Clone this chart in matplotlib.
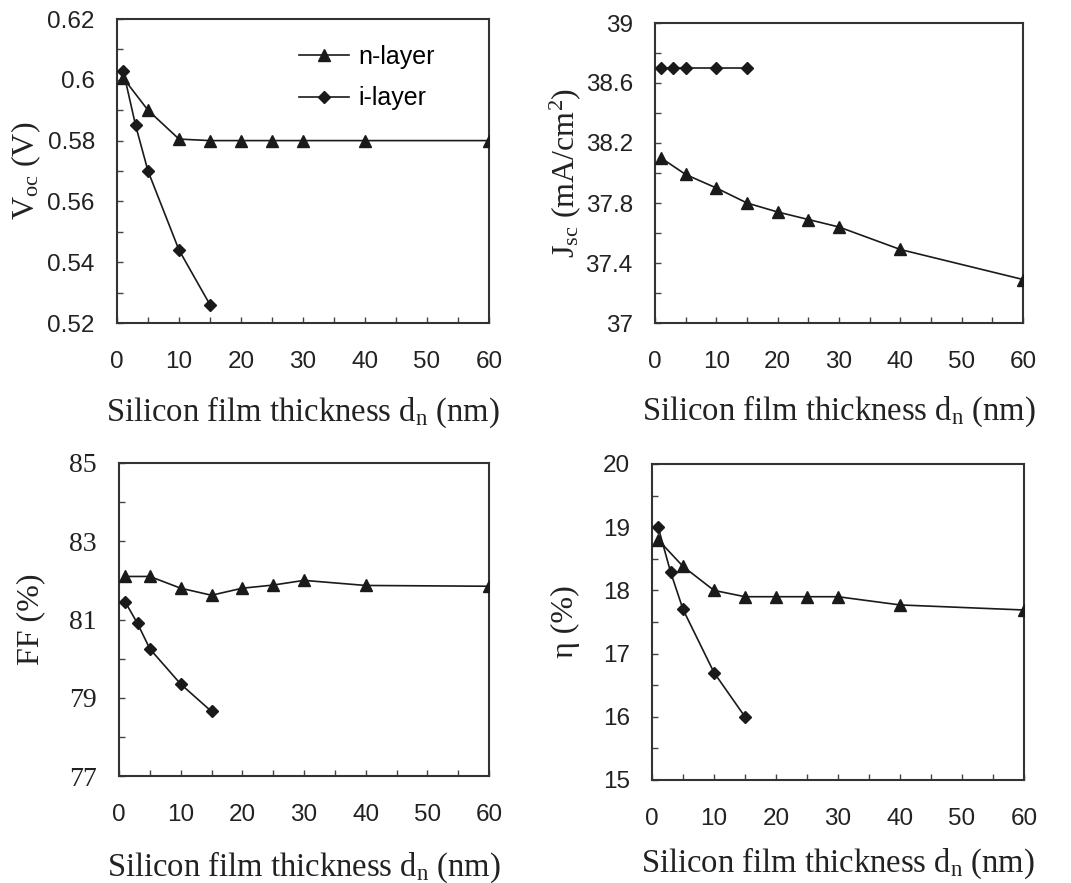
import matplotlib
matplotlib.use("Agg")
import matplotlib.pyplot as plt
from matplotlib.ticker import MultipleLocator, FixedLocator, FuncFormatter

plt.rcParams['mathtext.fontset'] = 'custom'
plt.rcParams['mathtext.rm'] = 'Liberation Serif'
plt.rcParams['mathtext.it'] = 'Liberation Serif:italic'

# data
x_n = [1, 5, 10, 15, 20, 25, 30, 40, 60]
x_i = [1, 3, 5, 10, 15]

voc_n = [0.6006, 0.590, 0.5805, 0.580, 0.580, 0.580, 0.580, 0.580, 0.580]
voc_i = [0.603, 0.585, 0.570, 0.544, 0.526]

jsc_n = [38.10, 37.99, 37.90, 37.80, 37.74, 37.69, 37.64, 37.49, 37.29]
jsc_i = [38.70, 38.70, 38.70, 38.70, 38.70]

ff_n = [82.10, 82.10, 81.80, 81.62, 81.80, 81.88, 82.00, 81.87, 81.85]
ff_i = [81.45, 80.90, 80.25, 79.35, 78.65]

eta_n = [18.80, 18.38, 18.00, 17.90, 17.90, 17.90, 17.90, 17.77, 17.69]
eta_i = [19.00, 18.29, 17.70, 16.70, 16.00]

xlabel = r'Silicon film thickness d$_{\rm n}$ (nm)'
ylabels = [r'V$_{\rm oc}$ (V)', r'J$_{\rm sc}$ (mA/cm$^{2}$)', 'FF (%)', 'η (%)']

yticks_major = [[0.52, 0.54, 0.56, 0.58, 0.60, 0.62],
                [37.0, 37.4, 37.8, 38.2, 38.6, 39.0],
                [77, 79, 81, 83, 85],
                [15, 16, 17, 18, 19, 20]]
yticks_minor = [[0.53, 0.55, 0.57, 0.59, 0.61],
                [37.2, 37.6, 38.0, 38.4, 38.8],
                [78, 80, 82, 84],
                [15.5, 16.5, 17.5, 18.5, 19.5]]
ylims = [(0.52, 0.62), (37.0, 39.0), (77, 85), (15, 20)]

W, H = 1071, 883
fig = plt.figure(figsize=(W / 100, H / 100), dpi=100)

def mk_ax(l, t, r, b):
    return fig.add_axes([l / W, 1 - b / H, (r - l) / W, (b - t) / H])

axes = [mk_ax(117, 19, 489, 323), mk_ax(655, 23, 1023, 323),
        mk_ax(119, 463, 489, 776), mk_ax(652, 464, 1024, 780)]

series = [(voc_n, voc_i), (jsc_n, jsc_i), (ff_n, ff_i), (eta_n, eta_i)]
ytick_serif = [False, False, True, False]
lblx = [-0.20, -0.196, -0.20, -0.194]
xlbly = [-0.235, -0.235, -0.235, -0.208]

lc = '#1a1a1a'
sans = 'Liberation Sans'
serif = 'Liberation Serif'

def fmt(v, p):
    s = ('%.2f' % v) if abs(v) < 10 else ('%.1f' % v)
    return s.rstrip('0').rstrip('.')

for k, ax in enumerate(axes):
    yn, yi = series[k]
    ax.plot(x_n, yn, color=lc, lw=1.2, marker='^', ms=8, mfc=lc, mec=lc, label='n-layer', zorder=3)
    ax.plot(x_i, yi, color=lc, lw=1.2, marker='D', ms=6, mfc=lc, mec=lc, label='i-layer', zorder=3)
    ax.set_xlim(0, 60)
    ax.set_ylim(*ylims[k])
    ax.xaxis.set_major_locator(MultipleLocator(10))
    ax.xaxis.set_minor_locator(MultipleLocator(5))
    ax.yaxis.set_major_locator(FixedLocator(yticks_major[k]))
    ax.yaxis.set_minor_locator(FixedLocator(yticks_minor[k]))
    ax.yaxis.set_major_formatter(FuncFormatter(fmt))
    ax.tick_params(axis='both', which='both', direction='in', length=4, width=1.0, color='#444444')
    ax.tick_params(axis='x', which='major', pad=20)
    ax.tick_params(axis='y', which='major', pad=16)
    for lab in ax.get_xticklabels():
        lab.set_fontfamily(sans)
        lab.set_fontsize(17.5)
        lab.set_color('#222222')
    for lab in ax.get_yticklabels():
        lab.set_fontfamily(serif if ytick_serif[k] else sans)
        lab.set_fontsize(20 if ytick_serif[k] else 17.5)
        lab.set_color('#222222')
    for sp in ax.spines.values():
        sp.set_linewidth(1.5)
        sp.set_color('#333333')
    ax.set_xlabel(xlabel, fontfamily=serif, fontsize=23.5, color='#222222')
    ax.xaxis.set_label_coords(0.5, xlbly[k])
    ax.set_ylabel(ylabels[k], fontfamily=serif, fontsize=23, color='#222222')
    ax.yaxis.set_label_coords(lblx[k], 0.5)

axes[0].legend(loc='upper left', bbox_to_anchor=(0.49, 0.915), frameon=False,
               prop={'family': sans, 'size': 18}, handlelength=2.0,
               handletextpad=0.35, labelspacing=0.7, borderpad=0, borderaxespad=0)

fig.savefig('out.png', dpi=100, facecolor='white')
